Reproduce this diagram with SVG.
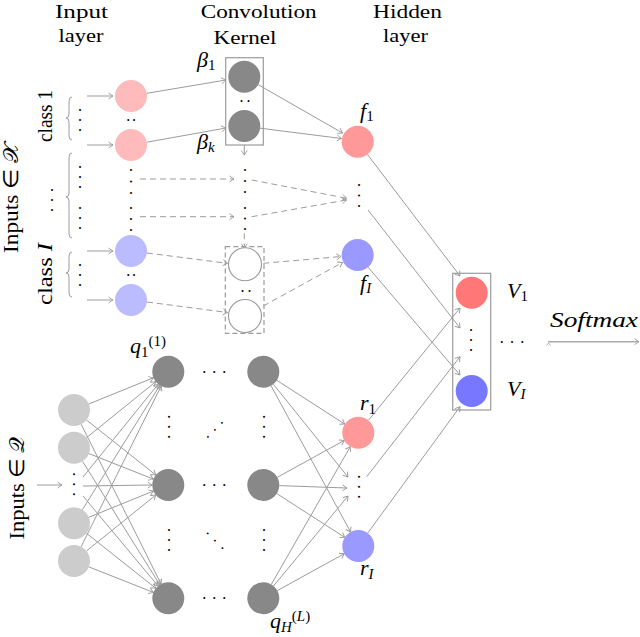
<svg xmlns="http://www.w3.org/2000/svg" width="640" height="637" viewBox="0 0 640 637" font-family="'Liberation Serif', serif">
<defs>
<marker id="a" viewBox="-6 -4 7 8" markerWidth="7" markerHeight="8" refX="0" refY="0" orient="auto" markerUnits="userSpaceOnUse">
<path d="M-4.5,-3 Q-1.5,-0.8 0,0 Q-1.5,0.8 -4.5,3" fill="none" stroke="#999" stroke-width="0.9"/>
</marker>
<style>
.t{font-family:'Liberation Serif',serif;font-size:21px;fill:#000}
.h{font-family:'Liberation Serif',serif;font-size:19px;fill:#000}
.m{font-family:'Liberation Serif',serif;font-style:italic;font-size:22px;fill:#000}
.s{font-size:15px}
.d{font-family:'Liberation Serif',serif;font-size:16px;fill:#000}
.l{stroke:#9c9c9c;stroke-width:1;fill:none;marker-end:url(#a)}
.dl{stroke:#9c9c9c;stroke-width:1;fill:none;stroke-dasharray:6 4;marker-end:url(#a)}
.br{stroke:#9c9c9c;stroke-width:1;fill:none}
.box{stroke:#9c9c9c;stroke-width:1.2;fill:none}
.pk{fill:#ffbbbb}.bl{fill:#bbbbff}.hp{fill:#ff9999}.hb{fill:#9999ff}.vp{fill:#ff7777}.vb{fill:#7777ff}
.dk{fill:#888888}.lg{fill:#cccccc}.wh{fill:#fff;stroke:#999;stroke-width:1.1}
</style>
</defs>

<g id="titles">
<text class="h" x="81.5" y="18" text-anchor="middle" textLength="53" lengthAdjust="spacingAndGlyphs">Input</text>
<text class="h" x="81" y="42" text-anchor="middle" textLength="45" lengthAdjust="spacingAndGlyphs">layer</text>
<text class="h" x="258.7" y="18" text-anchor="middle" textLength="116" lengthAdjust="spacingAndGlyphs">Convolution</text>
<text class="h" x="245" y="44" text-anchor="middle" textLength="63" lengthAdjust="spacingAndGlyphs">Kernel</text>
<text class="h" x="407.5" y="18" text-anchor="middle" textLength="69" lengthAdjust="spacingAndGlyphs">Hidden</text>
<text class="h" x="405.5" y="42" text-anchor="middle" textLength="45" lengthAdjust="spacingAndGlyphs">layer</text>
</g>

<g id="side-labels">
<text class="t" transform="translate(17.5,198) rotate(-90)" text-anchor="middle" textLength="110" lengthAdjust="spacingAndGlyphs">Inputs ∈ <tspan font-family="'DejaVu Sans', 'Noto Sans', sans-serif">𝒳</tspan></text>
<text class="t" transform="translate(52,116) rotate(-90)" text-anchor="middle" font-size="19" textLength="52" lengthAdjust="spacingAndGlyphs">class 1</text>
<text class="t" transform="translate(52,274) rotate(-90)" text-anchor="middle" font-size="19" textLength="62" lengthAdjust="spacingAndGlyphs">class <tspan font-style="italic">I</tspan></text>
<text class="d" transform="translate(51.2,188) rotate(90)" letter-spacing="6">...</text>
<text class="t" transform="translate(24,488) rotate(-90)" text-anchor="middle" textLength="103" lengthAdjust="spacingAndGlyphs">Inputs ∈ <tspan font-family="'DejaVu Sans', 'Noto Sans', sans-serif">𝒬</tspan></text>
</g>

<g id="braces">
<path class="br" d="M72,97 Q69,97 69,101 L69,114 Q69,118 66,118 Q69,118 69,122 L69,136 Q69,140 72,140"/>
<path class="br" d="M72,153 Q69,153 69,157 L69,193 Q69,197 66,197 Q69,197 69,201 L69,234 Q69,238 72,238"/>
<path class="br" d="M72,252 Q69,252 69,256 L69,269 Q69,273 66,273 Q69,273 69,277 L69,293 Q69,297 72,297"/>
</g>

<g id="dots">
<text class="d" transform="translate(79.2,108) rotate(90)" letter-spacing="6">...</text>
<text class="d" transform="translate(79.2,165) rotate(90)" letter-spacing="6">...</text>
<text class="d" transform="translate(79.2,206) rotate(90)" letter-spacing="6">...</text>
<text class="d" transform="translate(79.2,263) rotate(90)" letter-spacing="6">...</text>
<text class="d" x="126.3" y="121" letter-spacing="1.7">..</text>
<text class="d" transform="translate(130.2,168) rotate(90)" letter-spacing="7.5">...</text>
<text class="d" transform="translate(130.2,206) rotate(90)" letter-spacing="7">...</text>
<text class="d" x="126.3" y="276" letter-spacing="1.7">..</text>
<text class="d" x="239.5" y="102" letter-spacing="3">..</text>
<text class="d" transform="translate(243.5,168) rotate(90)" letter-spacing="7">...</text>
<text class="d" transform="translate(243.5,206) rotate(90)" letter-spacing="6.5">...</text>
<text class="d" x="240.5" y="292" letter-spacing="3">..</text>
<text class="d" transform="translate(357.5,183) rotate(90)" letter-spacing="6.5">...</text>
<text class="d" transform="translate(470.2,328) rotate(90)" letter-spacing="6">...</text>
<text class="d" x="499.7" y="342.5" letter-spacing="6.3">...</text>
<text class="d" transform="translate(73.2,472.3) rotate(90)" letter-spacing="6">...</text>
<text class="d" transform="translate(167.5,414.7) rotate(90)" letter-spacing="6">...</text>
<text class="d" transform="translate(167.5,528) rotate(90)" letter-spacing="6">...</text>
<text class="d" transform="translate(262.5,414.7) rotate(90)" letter-spacing="6">...</text>
<text class="d" transform="translate(262.5,528) rotate(90)" letter-spacing="6">...</text>
<text class="d" x="202.3" y="372.5" letter-spacing="6">...</text>
<text class="d" x="202.3" y="485.8" letter-spacing="6">...</text>
<text class="d" x="202.3" y="599.1" letter-spacing="6">...</text>
<text class="d" transform="translate(206.9,438.7) rotate(-45)" letter-spacing="5.9">...</text>
<text class="d" transform="translate(205.7,532.5) rotate(45)" letter-spacing="6.4">...</text>
<text class="d" transform="translate(357.5,474.7) rotate(90)" letter-spacing="6">...</text>
</g>

<g id="connectors">
<line class="l" x1="87" y1="96" x2="113" y2="96"/>
<line class="l" x1="87" y1="145" x2="113" y2="145"/>
<line class="l" x1="87" y1="251" x2="113" y2="251"/>
<line class="l" x1="87" y1="300" x2="113" y2="300"/>
<line class="l" x1="146.8" y1="93.3" x2="226" y2="80"/>
<line class="l" x1="146.8" y1="142.2" x2="226" y2="128"/>
<line class="l" x1="258.2" y1="84.7" x2="342.5" y2="133"/>
<line class="l" x1="260.1" y1="128.2" x2="341.5" y2="138.5"/>
<line class="l" x1="244.3" y1="145" x2="244.3" y2="155"/>
<line class="dl" x1="140" y1="179" x2="234" y2="179"/>
<line class="dl" x1="140" y1="216.7" x2="234" y2="216.7"/>
<line class="dl" x1="251.7" y1="180" x2="346.7" y2="198.3"/>
<line class="dl" x1="251.7" y1="216.7" x2="346.7" y2="200"/>
<line class="dl" x1="244.3" y1="233.3" x2="244.3" y2="248.3"/>
<line class="dl" x1="146.9" y1="253" x2="227.5" y2="263.3"/>
<line class="dl" x1="146.9" y1="302" x2="227.5" y2="312.5"/>
<line class="dl" x1="263.3" y1="263.3" x2="341" y2="256.5"/>
<line class="dl" x1="263.3" y1="306" x2="342.5" y2="262.5"/>
<line class="l" x1="367.4" y1="154.4" x2="460" y2="276"/>
<line class="l" x1="368" y1="210" x2="460" y2="328"/>
<line class="l" x1="368.1" y1="267.2" x2="460" y2="375"/>
<line class="l" x1="368.4" y1="420.3" x2="460" y2="308"/>
<line class="l" x1="366.7" y1="476.7" x2="460" y2="356.7"/>
<line class="l" x1="367.7" y1="533.1" x2="460" y2="406.7"/>
<line x1="548" y1="341.7" x2="639" y2="341.7" stroke="#aaa" stroke-width="1.5" marker-end="url(#a)"/>
<path d="M546.5,345.5 L548.5,343 L550.5,345.5" fill="none" stroke="#aaa" stroke-width="0.9"/>
<line class="l" x1="37" y1="485" x2="62" y2="485"/>
<line class="l" x1="88.8" y1="404" x2="153.5" y2="377.7"/>
<line class="l" x1="86.5" y1="420" x2="155.8" y2="475"/>
<line class="l" x1="81.2" y1="424.3" x2="161.1" y2="584"/>
<line class="l" x1="86.5" y1="437.7" x2="155.8" y2="381.7"/>
<line class="l" x1="88.9" y1="453.6" x2="153.4" y2="479.1"/>
<line class="l" x1="82.5" y1="461.3" x2="159.8" y2="584.7"/>
<line class="l" x1="83" y1="477" x2="158.2" y2="384.1"/>
<line class="l" x1="83" y1="486" x2="152.3" y2="485"/>
<line class="l" x1="83" y1="496" x2="158.1" y2="586"/>
<line class="l" x1="82.4" y1="509.7" x2="159.9" y2="385.3"/>
<line class="l" x1="88.8" y1="517.3" x2="153.5" y2="491"/>
<line class="l" x1="86.5" y1="533.3" x2="155.8" y2="588.3"/>
<line class="l" x1="81.1" y1="546.7" x2="161.2" y2="386"/>
<line class="l" x1="86.5" y1="551" x2="155.8" y2="495"/>
<line class="l" x1="88.9" y1="566.9" x2="153.4" y2="592.4"/>
<line class="l" x1="276.8" y1="380.3" x2="344.8" y2="424.1"/>
<line class="l" x1="273.3" y1="384.2" x2="348" y2="477"/>
<line class="l" x1="271" y1="385.7" x2="350.6" y2="532"/>
<line class="l" x1="277.3" y1="477.3" x2="344.3" y2="440.4"/>
<line class="l" x1="279.3" y1="485.6" x2="347" y2="488"/>
<line class="l" x1="276.8" y1="493.6" x2="344.8" y2="537.4"/>
<line class="l" x1="271.3" y1="584.4" x2="350.3" y2="446.6"/>
<line class="l" x1="273.5" y1="586" x2="348" y2="496"/>
<line class="l" x1="277.3" y1="590.6" x2="344.3" y2="553.7"/>
</g>

<g id="input-class1"><circle class="pk" cx="131" cy="96" r="16"/><circle class="pk" cx="131" cy="145" r="16"/></g>
<g id="input-classI"><circle class="bl" cx="131" cy="251" r="16"/><circle class="bl" cx="131" cy="300" r="16"/></g>
<g id="kernel">
<rect class="box" x="225.7" y="57.7" width="37.6" height="87.3"/>
<circle class="dk" cx="244.3" cy="76.7" r="16"/>
<circle class="dk" cx="244.3" cy="126" r="16"/>
<text class="m" x="197" y="67">β<tspan class="s" dy="3" font-style="normal">1</tspan></text>
<text class="m" x="197" y="149">β<tspan class="s" dy="3">k</tspan></text>
</g>
<g id="kernel-I">
<rect class="box" x="225.3" y="246.7" width="38.7" height="86.7" stroke-dasharray="5 3"/>
<circle class="wh" cx="245" cy="264.3" r="16.5"/>
<circle class="wh" cx="245" cy="316" r="16.5"/>
</g>
<g id="f1"><circle class="hp" cx="357.7" cy="141.7" r="16"/><text class="m" x="360" y="118">f<tspan class="s" dy="3" font-style="normal">1</tspan></text></g>
<g id="fI"><circle class="hb" cx="357.7" cy="255" r="16"/><text class="m" x="360" y="290">f<tspan class="s" dy="3">I</tspan></text></g>
<g id="output">
<rect class="box" x="452.7" y="273.3" width="38" height="136.7"/>
<circle class="vp" cx="471.7" cy="292.7" r="16"/>
<circle class="vb" cx="471.7" cy="391" r="16"/>
<text class="m" x="507" y="298">V<tspan class="s" dy="3" font-style="normal">1</tspan></text>
<text class="m" x="507" y="396">V<tspan class="s" dy="3">I</tspan></text>
<text class="m" x="550" y="327" textLength="88" lengthAdjust="spacingAndGlyphs">Softmax</text>
</g>
<g id="inputs-Q">
<circle class="lg" cx="74" cy="410" r="16"/>
<circle class="lg" cx="74" cy="447.7" r="16"/>
<circle class="lg" cx="74" cy="523.3" r="16"/>
<circle class="lg" cx="74" cy="561" r="16"/>
</g>
<g id="q-layer1">
<circle class="dk" cx="168.3" cy="371.7" r="16"/>
<circle class="dk" cx="168.3" cy="485" r="16"/>
<circle class="dk" cx="168.3" cy="598.3" r="16"/>
<text class="m" x="130" y="353">q<tspan class="s" dy="4" font-style="normal">1</tspan><tspan class="s" dy="-11" font-style="normal">(1)</tspan></text>
</g>
<g id="q-layerL">
<circle class="dk" cx="263.3" cy="371.7" r="16"/>
<circle class="dk" cx="263.3" cy="485" r="16"/>
<circle class="dk" cx="263.3" cy="598.3" r="16"/>
<text class="m" x="270" y="628">q<tspan class="s" dy="4">H</tspan><tspan class="s" dy="-11" font-style="normal">(</tspan><tspan class="s">L</tspan><tspan class="s" font-style="normal">)</tspan></text>
</g>
<g id="r1"><circle class="hp" cx="358.3" cy="432.7" r="16"/><text class="m" x="360" y="410">r<tspan class="s" dy="4" font-style="normal">1</tspan></text></g>
<g id="rI"><circle class="hb" cx="358.3" cy="546" r="16"/><text class="m" x="360" y="575">r<tspan class="s" dy="4">I</tspan></text></g>
</svg>
